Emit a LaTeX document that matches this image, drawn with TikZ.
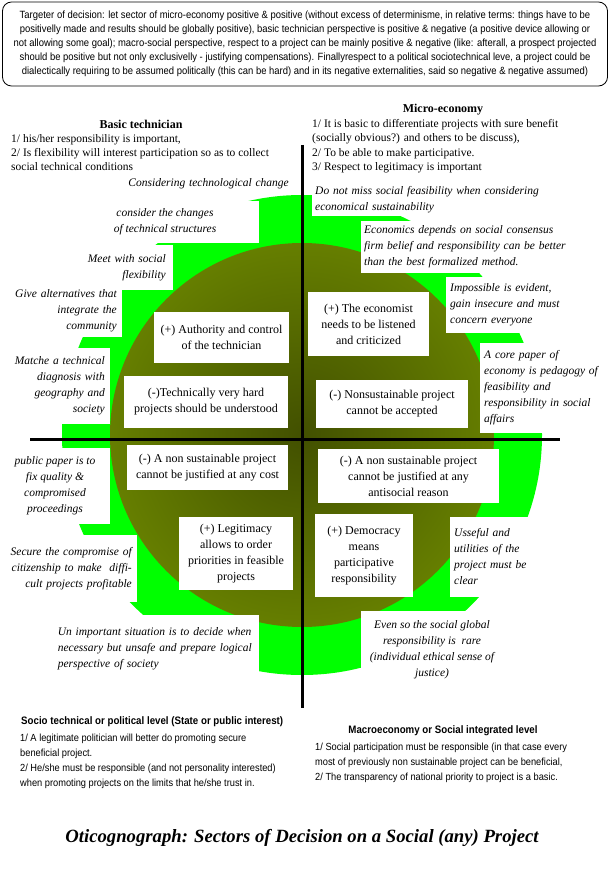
\documentclass[tikz,border=0pt]{standalone}
\usepackage{fontspec}
\setmainfont{Liberation Serif}
\newfontfamily\narrowsans[FakeStretch=0.9]{Liberation Sans}
\usepackage{xcolor}
\usetikzlibrary{positioning}
\definecolor{brightgreen}{HTML}{00FF00}
\definecolor{olivedark}{HTML}{425000}
\definecolor{olivemid}{HTML}{6A8400}
\definecolor{olivelight}{HTML}{8CAE00}
\pgfdeclareradialshading{olivedisc}{\pgfpoint{0bp}{0bp}}{color(0bp)=(olivedark); color(28bp)=(olivemid); color(50bp)=(olivelight)}

\begin{document}
\begin{tikzpicture}[x=1pt,y=-1pt, every node/.style={inner sep=0pt},
  brief/.style={draw,line width=0.8pt,rounded corners=9pt,align=center,minimum width=605pt,minimum height=84pt,font=\narrowsans\fontsize{10.5}{14}\selectfont},
  head/.style={font=\fontsize{12}{14}\selectfont\bfseries},
  lst/.style={align=left,font=\fontsize{11.5}{14.2}\selectfont},
  quad/.style={fill=white,align=center,font=\fontsize{12}{16}\selectfont},
  note/.style={fill=white,font=\fontsize{11.5}{16}\selectfont\itshape},
  sechead/.style={font=\narrowsans\fontsize{10.8}{14}\selectfont\bfseries},
  seclist/.style={align=left,font=\narrowsans\fontsize{10.3}{15}\selectfont},
  axis/.style={line width=3pt,black}]
  \useasboundingbox (0,0) rectangle (610,877);
  \coordinate (hub) at (302,435);
  \fill[brightgreen] (hub) circle[radius=240pt];
  \shade[shading=olivedisc] (hub) circle[radius=192pt];

  \node[brief] (brief) at (305,44) {Targeter of decision: let sector of micro-economy positive \& positive (without excess of determinisme, in relative terms: things have to be\\positivelly made and results should be globally positive), basic technician perspective is positive \& negative (a positive device allowing or\\not allowing some goal); macro-social perspective, respect to a project can be mainly positive \& negative (like: afterall, a prospect projected\\should be positive but not only exclusivelly - justifying compensations). Finallyrespect to a political sociotechnical leve, a project could be\\dialectically requiring to be assumed politically (this can be hard) and in its negative externalities, said so negative \& negative assumed)};

  \node[head] (techhead) at (141,124) {Basic technician};
  \node[lst,anchor=north west] (techlist) at (11,134) {1/ his/her responsibility is important,\\2/ Is flexibility will interest participation so as to collect\\social technical conditions};
  \node[head] (microhead) at (443,110) {Micro-economy};
  \node[lst,anchor=north west] (microlist) at (312,119.5) {1/ It is basic to differentiate projects with sure benefit\\(socially obvious?) and others to be discuss),\\2/ To be able to make participative.\\3/ Respect to legitimacy is important};

  \node[note,align=right,text width=280pt,inner xsep=5pt,minimum height=23pt,anchor=east] (notechange) at (294,183.5) {Considering technological change};
  \node[note,align=center,minimum width=188pt,minimum height=42pt] (notestruct) at (165,222) {consider the changes\\of technical structures};
  \node[note,align=right,text width=90pt,inner xsep=7pt,minimum height=45pt,anchor=south east] (noteflex) at (173,290) {Meet with social\\flexibility};
  \node[note,align=right,text width=110pt,inner xsep=5pt,minimum height=52pt,anchor=south east] (notealt) at (122,337) {Give alternatives that\\integrate the\\community};
  \node[note,align=right,text width=95pt,inner xsep=5pt,minimum height=76pt,anchor=south east] (notediag) at (110,424) {Matche a technical\\diagnosis with\\geography and\\society};
  \node[note,align=center,minimum width=110pt,minimum height=76pt] (notepaper) at (55,486) {public paper is to\\fix quality \&\\compromised\\proceedings};
  \node[note,align=right,text width=127pt,inner xsep=5pt,minimum height=67pt,anchor=south east] (notesecure) at (137,602) {Secure the compromise of\\citizenship to make~ diffi-\\cult projects profitable};
  \node[note,align=left,text width=201pt,inner xsep=0pt,minimum height=68pt,anchor=north east] (noteunsafe) at (259,615) {Un important situation is to decide when\\necessary but unsafe and prepare logical\\perspective of society};

  \node[note,align=left,text width=260pt,inner xsep=3pt,minimum height=33pt,anchor=south west] (notefeas) at (312,216) {Do not miss social feasibility when considering\\economical sustainability};
  \node[note,align=left,text width=240pt,inner xsep=3pt,minimum height=52pt,anchor=south west] (noteconsensus) at (361,273) {Economics depends on social consensus\\firm belief and responsibility can be better\\than the best formalized method.};
  \node[note,align=left,text width=150pt,inner xsep=4pt,minimum height=56pt,anchor=south west] (noteimposs) at (446,333) {Impossible is evident,\\gain insecure and must\\concern everyone};
  \node[note,align=left,text width=125pt,inner xsep=4pt,minimum height=90pt,anchor=south west] (notecore) at (480,433) {A core paper of\\economy is pedagogy of\\feasibility and\\responsibility in social\\affairs};
  \node[note,align=left,text width=85pt,inner xsep=4pt,minimum height=80pt,anchor=south west] (noteuseful) at (450,597) {Usseful and\\utilities of the\\project must be\\clear};
  \node[note,align=center,minimum width=142pt,minimum height=78pt] (noteeven) at (432,650) {Even so the social global\\responsibility is~ rare\\(individual ethical sense of\\justice)};

  \node[quad,minimum width=135pt,minimum height=51pt] (techplus) at (221.5,337.5) {(+) Authority and control\\of the technician};
  \node[quad,minimum width=164pt,minimum height=52pt] (techminus) at (206,402) {(-)Technically very hard\\projects should be understood};
  \node[quad,minimum width=121pt,minimum height=64pt] (econplus) at (368.5,324) {(+) The economist\\needs to be listened\\and criticized};
  \node[quad,minimum width=152pt,minimum height=48pt] (econminus) at (392,404) {(-) Nonsustainable project\\cannot be accepted};
  \node[quad,minimum width=161pt,minimum height=45pt] (polminus) at (207.5,467.5) {(-) A non sustainable project\\cannot be justified at any cost};
  \node[quad,minimum width=114pt,minimum height=73pt] (polplus) at (236,553.5) {(+) Legitimacy\\allows to order\\priorities in feasible\\projects};
  \node[quad,minimum width=181pt,minimum height=54pt] (macrominus) at (408.5,476) {(-) A non sustainable project\\cannot be justified at any\\antisocial reason};
  \node[quad,minimum width=98pt,minimum height=83pt] (macroplus) at (364,555.5) {(+) Democracy\\means\\participative\\responsibility};

  \coordinate (axtop) at (302,145);
  \coordinate (axbot) at (302,708);
  \coordinate (axleft) at (30,439);
  \coordinate (axright) at (560,439);
  \draw[axis] (axtop) -- (axbot);
  \draw[axis] (axleft) -- (axright);

  \node[sechead,anchor=west] (sochead) at (21,722) {Socio technical or political level (State or public interest)};
  \node[seclist,anchor=north west] (soclist) at (20,733.5) {1/ A legitimate politician will better do promoting secure\\beneficial project.\\2/ He/she must be responsible (and not personality interested)\\when promoting projects on the limits that he/she trust in.};
  \node[sechead] (macrohead) at (443,731) {Macroeconomy or Social integrated level};
  \node[seclist,anchor=north west] (macrolist) at (315,742.5) {1/ Social participation must be responsible (in that case every\\most of previously non sustainable project can be beneficial,\\2/ The transparency of national priority to project is a basic.};

  \node[font=\fontsize{18.7}{22}\selectfont\bfseries\itshape] (title) at (302,838) {Oticognograph: Sectors of Decision on a Social (any) Project};
\end{tikzpicture}
\end{document}
